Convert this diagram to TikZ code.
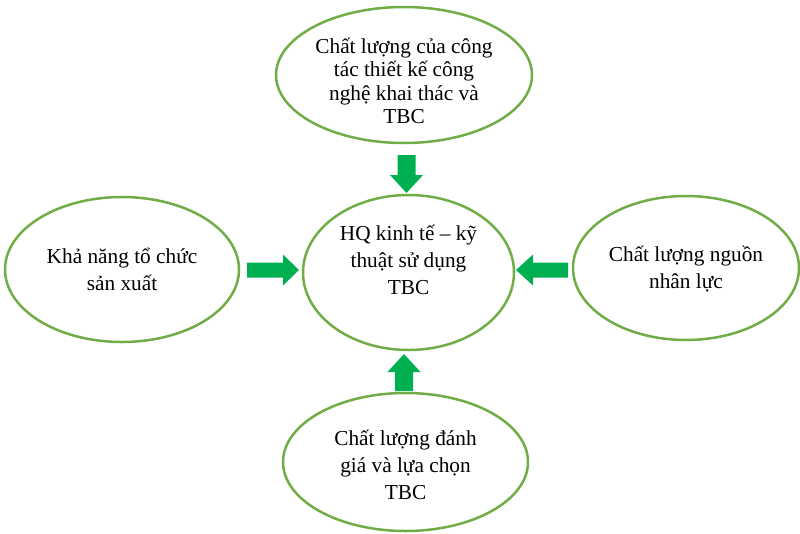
\documentclass[tikz,border=0pt]{standalone}
\usepackage{fontspec}
\setmainfont{Liberation Serif}
\usetikzlibrary{shapes.geometric}
\definecolor{ringgreen}{HTML}{70AD47}
\definecolor{arrowgreen}{HTML}{00B050}
\tikzset{
  oval/.style={ellipse, draw=ringgreen, line width=2.5pt, fill=white, inner sep=0pt},
  txt/.style={align=center, inner sep=0pt, font=\fontsize{21.3}{27}\selectfont},
  blockarrow/.style={fill=arrowgreen, draw=none}
}
\begin{document}
\begin{tikzpicture}[x=1pt,y=-1pt]
\useasboundingbox (0,0) rectangle (800,533);
% ellipses
\node[oval, minimum width=256pt, minimum height=136pt] (top) at (404,75) {};
\node[oval, minimum width=234pt, minimum height=145pt] (left) at (122,269.5) {};
\node[oval, minimum width=211pt, minimum height=155pt] (mid) at (408.5,272.5) {};
\node[oval, minimum width=226pt, minimum height=144pt] (right) at (686,268) {};
\node[oval, minimum width=245pt, minimum height=138pt] (bot) at (405.5,462) {};
% texts
\node[txt, font=\fontsize{21.3}{23.5}\selectfont] (ttop) at (404,81) {Chất lượng của công\\tác thiết kế công\\nghệ khai thác và\\TBC};
\node[txt] (tleft) at (122,269) {Khả năng tổ chức\\sản xuất};
\node[txt] (tmid) at (408.5,260) {HQ kinh tế – kỹ\\thuật sử dụng\\TBC};
\node[txt] (tright) at (686,269.5) {Chất lượng nguồn\\nhân lực};
\node[txt] (tbot) at (405.5,465) {Chất lượng đánh\\giá và lựa chọn\\TBC};
% block arrows
\fill[blockarrow] (397.5,155) -- (415.5,155) -- (415.5,175) -- (423,175) -- (406.5,193)
  -- (390,175) -- (397.5,175) -- cycle;
\fill[blockarrow] (395,391) -- (413,391) -- (413,372) -- (420.5,372) -- (404,354)
  -- (387.5,372) -- (395,372) -- cycle;
\fill[blockarrow] (247,262.5) -- (283,262.5) -- (283,254.5) -- (299,270) -- (283,285.5)
  -- (283,277.5) -- (247,277.5) -- cycle;
\fill[blockarrow] (568,262.5) -- (533,262.5) -- (533,254.5) -- (516,270) -- (533,285.5)
  -- (533,277.5) -- (568,277.5) -- cycle;
\end{tikzpicture}
\end{document}
